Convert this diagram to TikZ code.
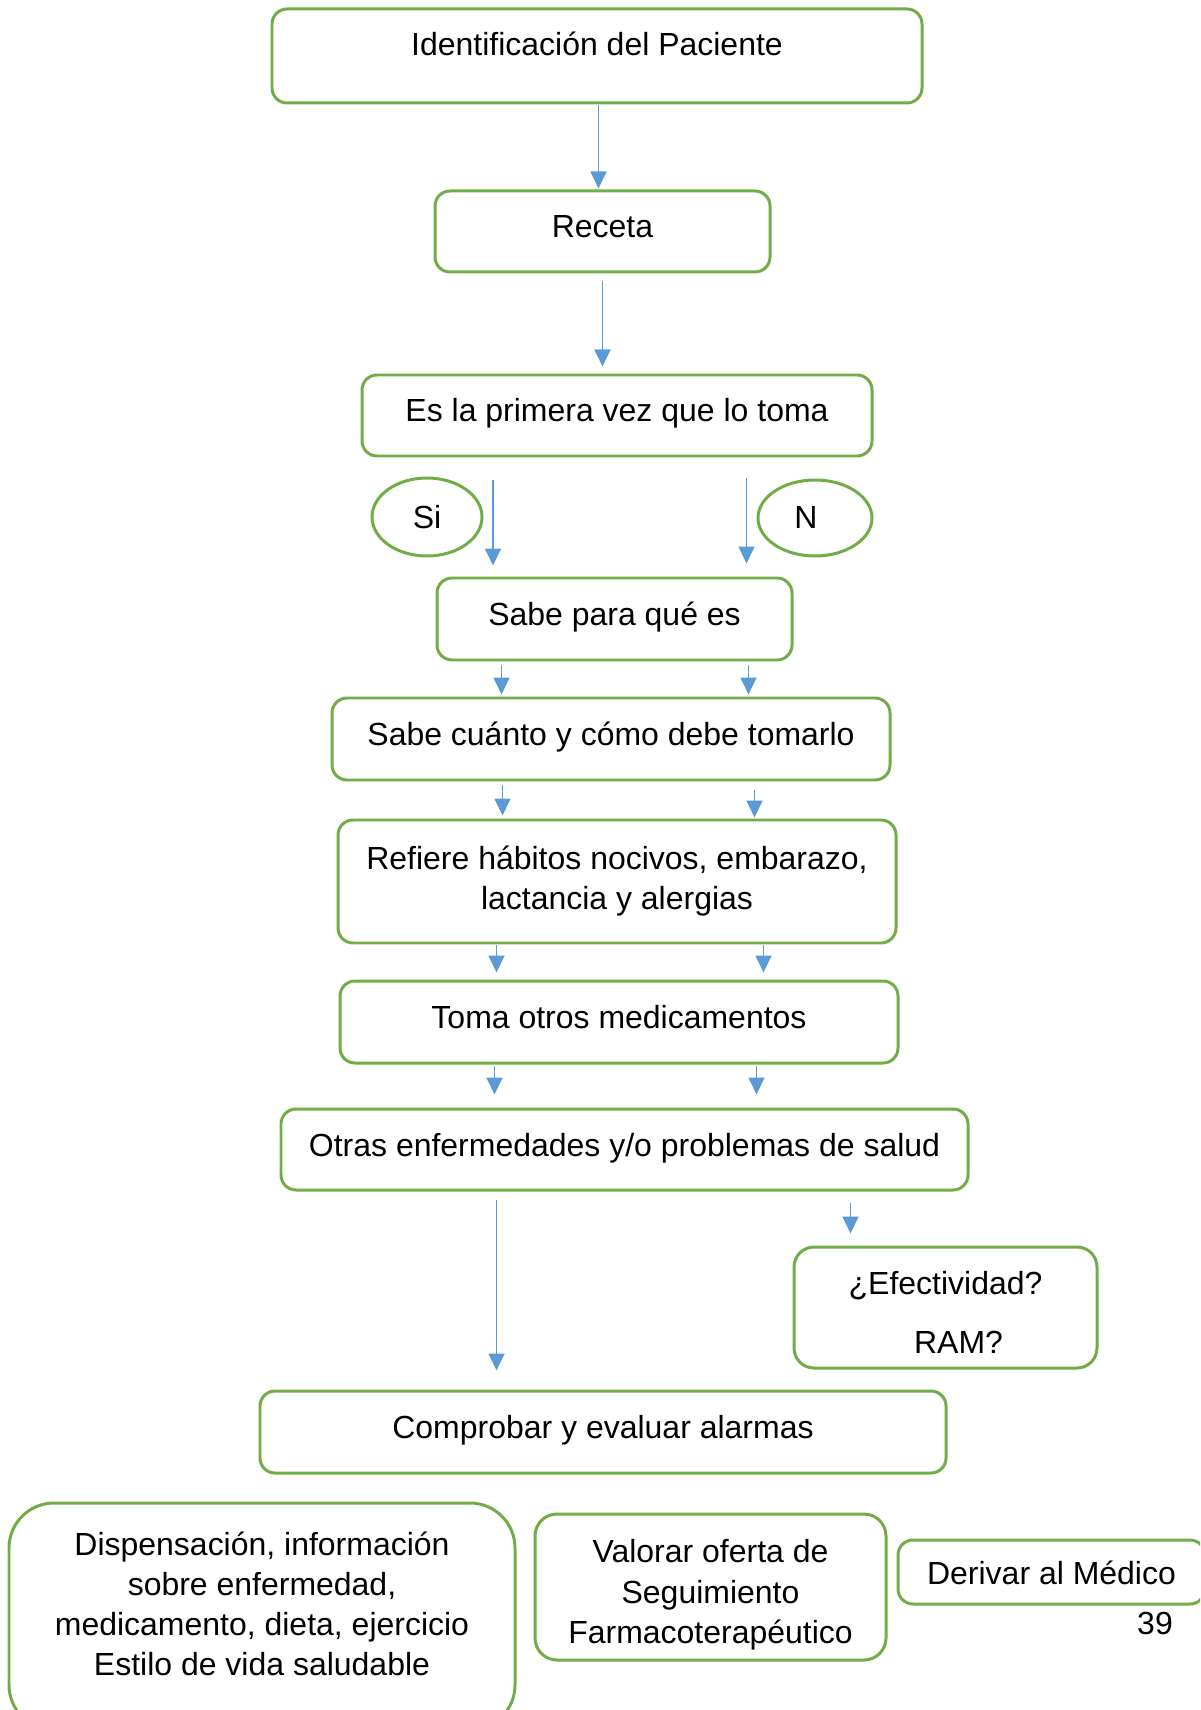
\documentclass[tikz,border=0pt]{standalone}
\usepackage{fontspec}
\setmainfont{Liberation Sans}
\usetikzlibrary{arrows.meta,shapes.geometric}
\definecolor{cajaverde}{HTML}{70AD47}
\definecolor{flechaazul}{HTML}{5B9BD5}

\begin{document}
\begin{tikzpicture}[font=\fontsize{9.1}{11.4}\selectfont,
    box/.style={draw=cajaverde, line width=0.85pt, rounded corners=0.15cm, align=center, inner sep=0pt},
    linea/.style={box, text height=0.24cm, text depth=0.11cm},
    opcion/.style={draw=cajaverde, line width=0.85pt, ellipse, inner sep=0pt},
    flecha/.style={draw=flechaazul, line width=0.5pt, -{Triangle[length=0.17cm,width=0.16cm]}}]
    \useasboundingbox (0, 0) rectangle (12, -17.1);
    \clip (0, 0) rectangle (12, -17.1);

    \node[linea, text depth=0.24cm, minimum width=6.5cm, minimum height=0.94cm] (ident) at (5.97, -0.56) {Identificación del Paciente};
    \node[linea, minimum width=3.35cm, minimum height=0.81cm] (receta) at (6.025, -2.315) {Receta};
    \node[linea, minimum width=5.1cm, minimum height=0.81cm] (primera) at (6.17, -4.155) {Es la primera vez que lo toma};
    \node[linea, minimum width=3.55cm, minimum height=0.82cm] (para) at (6.145, -6.19) {Sabe para qué es};
    \node[linea, minimum width=5.58cm, minimum height=0.82cm] (cuanto) at (6.11, -7.39) {Sabe cuánto y cómo debe tomarlo};
    \node[box, minimum width=5.58cm, minimum height=1.23cm] (habitos) at (6.17, -8.815) {Refiere hábitos nocivos, embarazo,\\lactancia y alergias};
    \node[linea, minimum width=5.58cm, minimum height=0.82cm] (otros) at (6.19, -10.22) {Toma otros medicamentos};
    \node[linea, minimum width=6.87cm, minimum height=0.81cm] (enferm) at (6.245, -11.495) {Otras enfermedades y/o problemas de salud};
    \node[box, rounded corners=0.2cm, minimum width=3.03cm, minimum height=1.21cm] (efect) at (9.455, -13.075) {\rule{0pt}{0.33cm}¿Efectividad?\\[0.19cm]\hspace{0.26cm}RAM?};
    \node[linea, minimum width=6.86cm, minimum height=0.82cm] (alarmas) at (6.03, -14.32) {Comprobar y evaluar alarmas};

    \node[box, rounded corners=0.45cm, text depth=0.25cm, minimum width=5.06cm, minimum height=2.27cm] (disp) at (2.62, -16.165) {Dispensación, información\\sobre enfermedad,\\medicamento, dieta, ejercicio\\Estilo de vida saludable};
    \node[box, rounded corners=0.22cm, text depth=-0.09cm, minimum width=3.51cm, minimum height=1.46cm] (valorar) at (7.105, -15.87) {\rule{0pt}{0.32cm}Valorar oferta de\\Seguimiento\\Farmacoterapéutico};
    \node[box, text height=0.24cm, text depth=0cm, minimum width=3.07cm, minimum height=0.64cm] (derivar) at (10.515, -15.72) {Derivar al Médico};
    \node (pagina) at (11.55, -16.23) {39};

    \node[opcion, minimum width=1.1cm, minimum height=0.78cm] (si) at (4.27, -5.17) {Si};
    \node[opcion, minimum width=1.14cm, minimum height=0.76cm] (no) at (8.15, -5.18) {N\kern0.18cm};

    % flechas
    \foreach \x/\y/\dest/\g in {5.985/-1.05/receta/0.01, 6.025/-2.81/primera/0.07,
        4.93/-4.80/para/0.11, 7.465/-4.78/para/0.13,
        5.015/-6.65/cuanto/0.02, 7.485/-6.65/cuanto/0.02,
        5.025/-7.85/habitos/0.03, 7.545/-7.90/habitos/0.01,
        4.965/-9.45/otros/0.07, 7.635/-9.45/otros/0.07,
        4.945/-10.66/enferm/0.13, 7.565/-10.66/enferm/0.13,
        4.965/-12.00/alarmas/0.19, 8.505/-12.03/efect/0.12}
        \draw[flecha, shorten >=\g cm] (\x, \y) -- (\x, \y |- \dest.north);
\end{tikzpicture}
\end{document}
